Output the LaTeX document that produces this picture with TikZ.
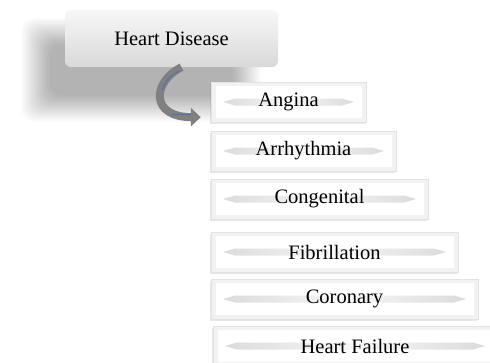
\documentclass[tikz,border=0pt]{standalone}
\usepackage{fontspec}
\setmainfont{Liberation Serif}
\usetikzlibrary{shadows,calc,arrows.meta}
\definecolor{hlblue}{RGB}{70,115,190}
\begin{document}
\begin{tikzpicture}[x=1pt,y=-1pt,
  hdbox/.style={rounded corners=6pt, top color=gray!6, bottom color=gray!30, draw=none,
    minimum width=213pt, minimum height=57pt, inner sep=0pt, font=\fontsize{20.5}{24}\selectfont},
  itembox/.style={draw=gray!22, fill=gray!10, minimum height=40pt, inner sep=0pt,
    font=\fontsize{20.5}{24}\selectfont,
    drop shadow={shadow xshift=-1.5pt, shadow yshift=-1.5pt, opacity=0.18},
    path picture={
      \fill[white] ([shift={(5pt,4pt)}]path picture bounding box.south west) rectangle ([shift={(-4pt,-4pt)}]path picture bounding box.north east);
      \shade[left color=gray!28, right color=gray!28, middle color=gray!6]
        ($(path picture bounding box.west)+(12pt,0pt)$) -- ++(12pt,3.5pt)
        -- ($(path picture bounding box.east)+(-24pt,3.5pt)$) -- ++(12pt,-3.5pt)
        -- ++(-12pt,-3.5pt) -- ($(path picture bounding box.west)+(24pt,-3.5pt)$) -- cycle;
    }},
  arrowline/.style={line width=8pt, black!50, -{Triangle[width=18pt,length=10pt]}},
  highlight/.style={line width=0.8pt, hlblue, line cap=round}
]
\fill[white] (0,0) rectangle (490,362);
\useasboundingbox (0,0) rectangle (490,362);

% blurred shadow of the top box
\foreach \i in {0,...,19}
  \fill[black, opacity=0.017, rounded corners=12pt] (50-\i*1.5, 45-\i*1.4) rectangle (232+\i*1.5, 95+\i*1.4);

\node[hdbox] (hd) at (171.5,38.5) {Heart Disease};

\node[itembox, minimum width=155pt] (angina) at (288.5,102) {Angina};
\node[itembox, minimum width=185pt] (arrh) at (303.5,151) {Arrhythmia};
\node[itembox, minimum width=217pt] (cong) at (319.5,199) {Congenital};
\node[itembox, minimum width=247pt] (fib) at (334.5,252) {Fibrillation};
\node[itembox, minimum width=267pt] (cor) at (344.5,299) {Coronary};
\node[itembox, minimum width=284pt] (hf) at (355,346) {Heart Failure};

\coordinate (as) at ($(hd.south)+(10,0)$);
\coordinate (ae) at ($(angina.south west)+(-10,-5)$);
\draw[arrowline] (as) .. controls (152,82) and (150,117) .. (ae);
\draw[highlight] (179,71) .. controls (168,78) .. (162,90);
\draw[highlight] (172,114) -- (190,114);
\end{tikzpicture}
\end{document}
